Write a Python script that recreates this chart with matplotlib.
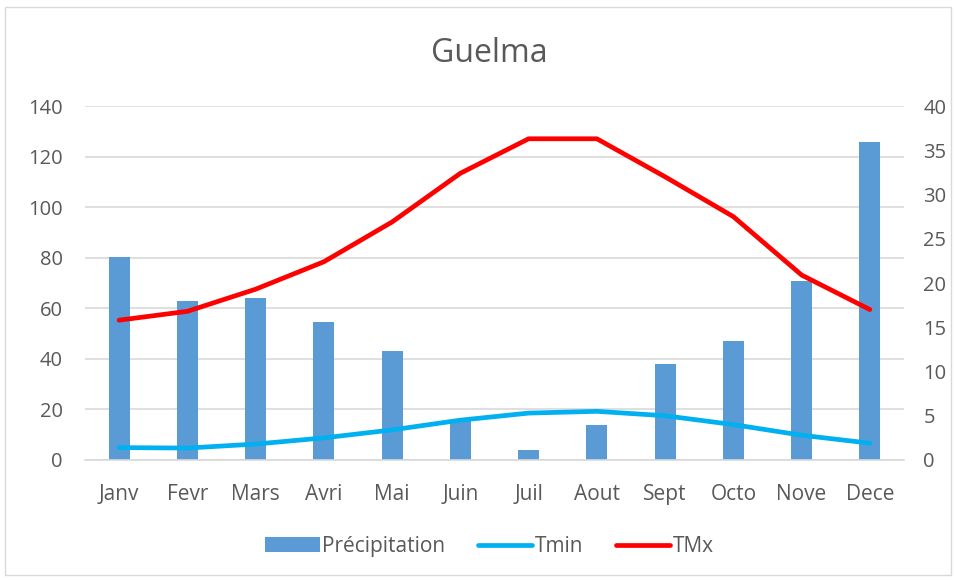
import matplotlib
matplotlib.use("Agg")
import matplotlib.pyplot as plt
from matplotlib.patches import Rectangle
import numpy as np

plt.rcParams["font.family"] = ["Open Sans", "DejaVu Sans"]

# monthly climate data for Guelma
months = ["Janv", "Fevr", "Mars", "Avri", "Mai", "Juin",
          "Juil", "Aout", "Sept", "Octo", "Nove", "Dece"]
precip = [80.3, 62.9, 64.0, 54.6, 43.1, 15.4, 4.0, 13.8, 38.0, 47.0, 70.8, 125.8]
tmin = [1.4, 1.35, 1.8, 2.5, 3.4, 4.5, 5.3, 5.5, 5.0, 4.0, 2.8, 1.9]
tmax = [15.8, 16.8, 19.3, 22.4, 26.9, 32.4, 36.3, 36.3, 32.0, 27.5, 20.9, 17.0]

GRAY = "#595959"

fig = plt.figure(figsize=(9.56, 5.8), dpi=100)
fig.patches.append(Rectangle((0.005, 0.008), 0.99, 0.98, transform=fig.transFigure,
                             fill=False, edgecolor="#d9d9d9", linewidth=1))

ax = fig.add_axes([0.0889, 0.2069, 0.8567, 0.6103])
ax2 = ax.twinx()

x = np.arange(len(months))
bars = ax.bar(x, precip, width=0.31, color="#5B9BD5", label="Précipitation", zorder=2)
ax.set_xlim(-0.5, len(months) - 0.5)
ax.set_ylim(0, 140)
ax.set_yticks(range(0, 141, 20))
ax.yaxis.grid(True, color="#d9d9d9", linewidth=1.2, zorder=0)
ax.set_axisbelow(True)

l1, = ax2.plot(x, tmin, color="#00B0F0", linewidth=3.4, solid_capstyle="round",
               label="Tmin")
l2, = ax2.plot(x, tmax, color="#FF0000", linewidth=3.4, solid_capstyle="round",
               label="TMx")
ax2.set_ylim(0, 40)
ax2.set_yticks(range(0, 41, 5))

ax.set_xticks(x)
ax.set_xticklabels(months)
for a in (ax, ax2):
    for s in a.spines.values():
        s.set_visible(False)
    a.tick_params(length=0, labelsize=14.5, colors=GRAY)
ax.spines["bottom"].set_visible(True)
ax.spines["bottom"].set_color("#d9d9d9")
ax.spines["bottom"].set_linewidth(1.2)
ax.tick_params(axis="x", labelsize=15, pad=17)
ax.tick_params(axis="y", pad=16)
ax2.tick_params(axis="y", pad=14)

fig.suptitle("Guelma", x=0.512, y=0.937, fontsize=23, color=GRAY)

fig.legend([bars, l1, l2], ["Précipitation", "Tmin", "TMx"], loc="center",
           bbox_to_anchor=(0.512, 0.058), ncol=3, frameon=False, fontsize=15,
           labelcolor=GRAY, handlelength=2.6, handletextpad=0.1, columnspacing=1.6)

fig.savefig("out.png", dpi=100)
